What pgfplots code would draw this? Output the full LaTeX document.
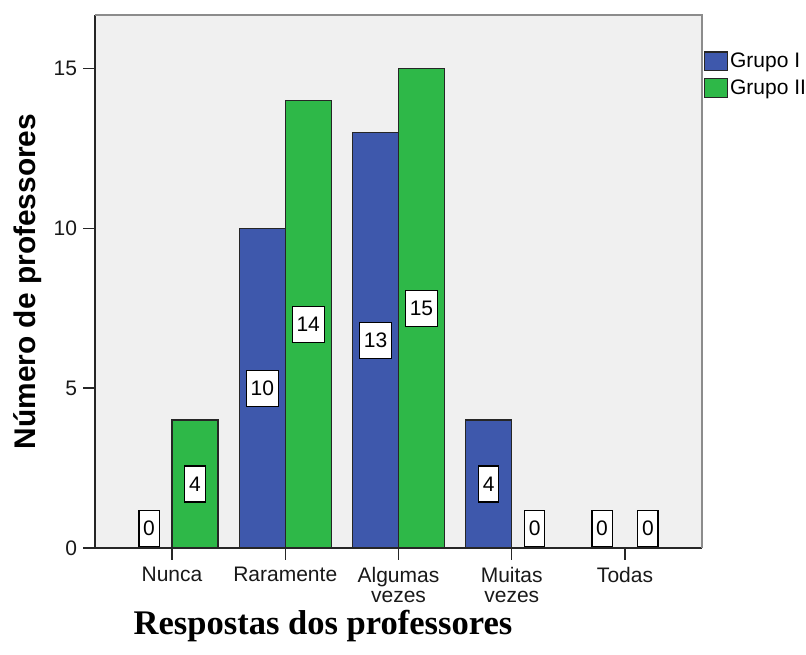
\documentclass[border=0pt]{standalone}
\usepackage{pgfplots}
\pgfplotsset{compat=1.18}
\usepackage{fontspec}
\setmainfont{Liberation Sans}
\newfontfamily\titlefont{Liberation Serif}
\definecolor{gblue}{HTML}{3E58AC}
\definecolor{ggreen}{HTML}{2EB848}
\definecolor{bgg}{HTML}{F0F0F0}
\pgfplotsset{sq legend/.style={legend image code/.code={\draw[##1, line width=0.9pt] (0pt,-7pt) rectangle (17pt,7pt);}}}
\begin{document}
\begin{tikzpicture}
\useasboundingbox (0,0) rectangle (604.5pt,491.25pt);
\begin{axis}[
  at={(71.25pt,80.25pt)}, anchor=south west,
  scale only axis, width=455.25pt, height=399.75pt,
  xmin=-0.68, xmax=4.68, ymin=0, ymax=16.67,
  clip=false,
  axis lines=left,
  axis line style={-, line width=1.3pt, draw=black!85},
  axis background/.style={fill=bgg},
  xtick={0,1,2,3,4},
  xticklabels={Nunca, Raramente, {Algumas\\vezes}, {Muitas\\vezes}, Todas},
  ytick={0,5,10,15},
  tick align=outside,
  tick style={line width=1pt, black!85},
  major tick length=9pt,
  /pgf/number format/assume math mode=true,
  ticklabel style={font=\fontsize{15.75}{15}\selectfont, text=black!90},
  xticklabel style={align=center, yshift=-2pt},
  yticklabel style={xshift=-1pt},
  every axis y label/.style={at={(axis description cs:-0.0972,0.5)}, rotate=90, anchor=base},
  ylabel={\fontsize{22.4}{26}\selectfont\bfseries Número de professores},
  every axis x label/.style={at={(axis description cs:0.3756,-0.1614)}, anchor=base},
  xlabel={\fontsize{25.9}{30}\selectfont\titlefont\bfseries Respostas dos professores},
  legend style={at={(1.0033,0.932)}, anchor=north west, draw=none, fill=none,
    font=\fontsize{15.75}{16}\selectfont, row sep=5pt, inner sep=0pt,
    nodes={inner xsep=1.5pt, inner ysep=0pt}},
  legend cell align=left,
  sq legend,
]
\addplot[ybar, bar width=0.406, bar shift=-0.203, fill=gblue, draw=black!85, line width=0.9pt, sq legend]
  coordinates {(0,0) (1,10) (2,13) (3,4) (4,0)};
\addlegendentry{Grupo I}
\addplot[ybar, bar width=0.406, bar shift=0.203, fill=ggreen, draw=black!85, line width=0.9pt, sq legend]
  coordinates {(0,4) (1,14) (2,15) (3,0) (4,0)};
\addlegendentry{Grupo II}
\addplot[forget plot, draw=none, mark=none, nodes near coords, point meta=explicit symbolic,
  every node near coord/.style={anchor=center, draw=black, fill=white, line width=0.9pt,
    inner xsep=3.2pt, inner ysep=0pt, minimum height=27pt, text=black,
    font=\fontsize{15.75}{16}\selectfont}]
  coordinates {(-0.203,0.62)[0] (0.797,5)[10] (1.797,6.5)[13] (2.797,2)[4] (3.797,0.62)[0]
               (0.203,2)[4] (1.203,7)[14] (2.203,7.5)[15] (3.203,0.62)[0] (4.203,0.62)[0]};
\draw[line width=1.1pt, color=black!45] (rel axis cs:0,1) -- (rel axis cs:1,1) -- (rel axis cs:1,0);
\end{axis}
\end{tikzpicture}
\end{document}
